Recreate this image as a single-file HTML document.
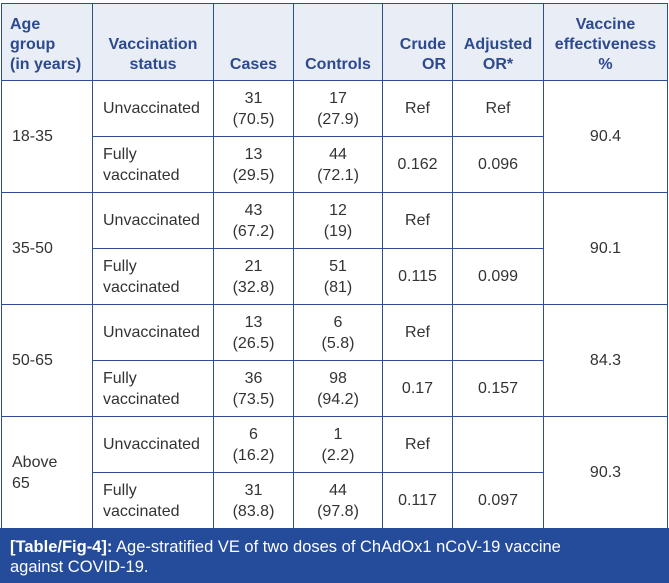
<!DOCTYPE html>
<html><head><meta charset="utf-8"><style>
html,body{margin:0;padding:0;background:#fff;width:669px;height:583px;overflow:hidden}
table{position:absolute;left:1px;top:3px;border-collapse:collapse;table-layout:fixed;font-family:"Liberation Sans",Arial,sans-serif;font-size:16px;color:#333}
td,th{border:1.5px solid #2f4c8c;padding:0 6px;line-height:21px}
th{background:#e9edf5;color:#2d4a8f;font-weight:bold;vertical-align:bottom;padding-bottom:5px;font-size:16px;line-height:20px}
td{text-align:center;vertical-align:middle}
td.l{text-align:left;padding-left:10px}
th.l{text-align:left;padding-left:8px}
tr.s{height:56px}
.cap{position:absolute;left:0;top:528px;width:669px;height:55px;background:#254c9b;color:#fff;font-family:"Liberation Sans",Arial,sans-serif;font-size:16.5px;line-height:20px;box-sizing:border-box;padding:9px 10px}
</style></head><body>
<table>
<colgroup><col style="width:91px"><col style="width:121px"><col style="width:80px"><col style="width:89px"><col style="width:70px"><col style="width:91px"><col style="width:124px"></colgroup>
<tr style="height:77px"><th class="l">Age<br>group<br>(in years)</th><th>Vaccination status</th><th>Cases</th><th>Controls</th><th style="text-align:right">Crude OR</th><th>Adjusted OR*</th><th>Vaccine effectiveness %</th></tr>
<tr class="s"><td class="l" rowspan="2">18-35</td><td class="l">Unvaccinated</td><td>31<br>(70.5)</td><td>17<br>(27.9)</td><td>Ref</td><td>Ref</td><td rowspan="2">90.4</td></tr>
<tr class="s"><td class="l">Fully<br>vaccinated</td><td>13<br>(29.5)</td><td>44<br>(72.1)</td><td>0.162</td><td>0.096</td></tr>
<tr class="s"><td class="l" rowspan="2">35-50</td><td class="l">Unvaccinated</td><td>43<br>(67.2)</td><td>12<br>(19)</td><td>Ref</td><td></td><td rowspan="2">90.1</td></tr>
<tr class="s"><td class="l">Fully<br>vaccinated</td><td>21<br>(32.8)</td><td>51<br>(81)</td><td>0.115</td><td>0.099</td></tr>
<tr class="s"><td class="l" rowspan="2">50-65</td><td class="l">Unvaccinated</td><td>13<br>(26.5)</td><td>6<br>(5.8)</td><td>Ref</td><td></td><td rowspan="2">84.3</td></tr>
<tr class="s"><td class="l">Fully<br>vaccinated</td><td>36<br>(73.5)</td><td>98<br>(94.2)</td><td>0.17</td><td>0.157</td></tr>
<tr class="s"><td class="l" rowspan="2">Above<br>65</td><td class="l">Unvaccinated</td><td>6<br>(16.2)</td><td>1<br>(2.2)</td><td>Ref</td><td></td><td rowspan="2">90.3</td></tr>
<tr class="s"><td class="l">Fully<br>vaccinated</td><td>31<br>(83.8)</td><td>44<br>(97.8)</td><td>0.117</td><td>0.097</td></tr>
</table>
<div class="cap"><b>[Table/Fig-4]:</b> Age-stratified VE of two doses of ChAdOx1 nCoV-19 vaccine<br>against COVID-19.</div>
</body></html>
